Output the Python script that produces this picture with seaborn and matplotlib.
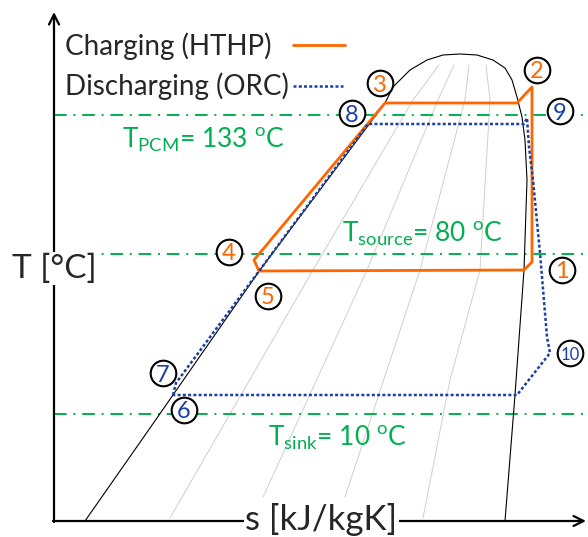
import matplotlib
matplotlib.use("Agg")
import matplotlib.pyplot as plt
import seaborn as sns
import numpy as np

sns.set_style("white")
plt.rcParams['font.family'] = ['Lato', 'DejaVu Sans']
plt.rcParams['mathtext.fontset'] = 'custom'
plt.rcParams['mathtext.rm'] = 'Lato'

# ---- data (schematic T-s diagram, arbitrary units) ----
dome_s = [85, 150, 260, 385, 393, 410, 427, 443, 460, 477, 493, 505, 512, 517, 522, 525, 527, 524, 515, 505]
dome_T = [16, 109, 267, 434, 450, 467, 477, 482, 483, 482, 477, 469, 457, 440, 420, 397, 357, 267, 142, 16]

iso1_s = [439, 413, 313, 170]
iso1_T = [472, 437, 267, 19]
iso2_s = [454, 438, 367, 263]
iso2_T = [472, 437, 267, 40]
iso3_s = [469, 465, 420, 345]
iso3_T = [472, 437, 267, 40]
iso4_s = [486, 490, 480, 450, 423]
iso4_T = [472, 437, 267, 157, 19]

hthp_s = [259, 524, 532, 532, 517, 385, 254, 259]
hthp_T = [266, 267, 275, 450, 434, 434, 277, 266]

orc_s = [173, 176, 368, 524, 527, 529, 533, 540, 547, 550, 517, 173]
orc_T = [142, 154, 413, 413, 419, 390, 357, 284, 200, 184, 142, 142]

temp_levels = [422, 283, 123]
temp_labels = ["T$_{\\mathregular{PCM}}$= 133 $^{\\mathregular{o}}$C",
               "T$_{\\mathregular{source}}$= 80 $^{\\mathregular{o}}$C",
               "T$_{\\mathregular{sink}}$= 10 $^{\\mathregular{o}}$C"]
temp_label_pos = [(122, 390), (342, 295), (268, 92)]

state_ids = ["1", "2", "3", "4", "5", "6", "7", "8", "9", "10"]
state_s = [562, 537, 380, 229, 268, 184, 163, 352, 560, 570]
state_T = [267, 467, 454, 285, 241, 127, 164, 424, 426, 184]

ORANGE = "#FF6600"
BLUE = "#1A3FA6"
GREEN = "#00B050"

fig = plt.figure(figsize=(5.88, 5.37), dpi=100)
ax = fig.add_axes([0, 0, 1, 1])
ax.set_xlim(0, 588)
ax.set_ylim(0, 537)
ax.axis('off')

# iso-quality lines
for xs, ys in [(iso1_s, iso1_T), (iso2_s, iso2_T), (iso3_s, iso3_T), (iso4_s, iso4_T)]:
    sns.lineplot(x=xs, y=ys, sort=False, estimator=None, ax=ax, color="#CFCFCF", lw=0.7, zorder=1)

# saturation dome
sns.lineplot(x=dome_s, y=dome_T, sort=False, estimator=None, ax=ax, color="black", lw=0.8, zorder=2)

# temperature levels
for lvl in temp_levels:
    ax.axhline(lvl, xmin=54/588, xmax=1, color=GREEN, lw=1.4,
               linestyle=(0, (6.5, 3.5, 1, 3.5)), zorder=1.5)
for lab, (x, y) in zip(temp_labels, temp_label_pos):
    ax.text(x, y, lab, color=GREEN, fontsize=19, ha='left', va='baseline', zorder=4)

# cycles
sns.lineplot(x=hthp_s, y=hthp_T, sort=False, estimator=None, ax=ax, color=ORANGE, lw=2.0, zorder=3)
sns.lineplot(x=orc_s, y=orc_T, sort=False, estimator=None, ax=ax, color=BLUE, lw=1.8,
             linestyle=(0, (1.2, 0.9)), zorder=3.5)

# legend (manual)
ax.text(65, 482, "Charging (HTHP)", fontsize=20, ha='left', va='baseline')
ax.text(65, 442, "Discharging (ORC)", fontsize=20, ha='left', va='baseline')
ax.plot([293, 345], [492, 492], color=ORANGE, lw=2.0)
ax.plot([293, 343], [451, 451], color=BLUE, lw=1.8, linestyle=(0, (1.2, 0.9)))

# state markers
sns.scatterplot(x=state_s, y=state_T, ax=ax, s=340, facecolor="white", edgecolor="black",
                linewidth=1.5, zorder=5)
for i, (x, y) in enumerate(zip(state_s, state_T)):
    col = ORANGE if i < 5 else BLUE
    fs = 12 if state_ids[i] == "10" else 17
    ax.text(x, y, state_ids[i], color=col, fontsize=fs, ha='center', va='center_baseline', zorder=6)

# axes with arrows
ax.annotate("", xy=(54, 525), xytext=(54, 15),
            arrowprops=dict(arrowstyle='->', lw=1.6, color='black', mutation_scale=18,
                            shrinkA=0, shrinkB=0))
ax.annotate("", xy=(586, 16), xytext=(53, 16),
            arrowprops=dict(arrowstyle='->', lw=1.6, color='black', mutation_scale=18,
                            shrinkA=0, shrinkB=0))
ax.text(12, 259, "T [°C]", fontsize=24, ha='left', va='baseline', zorder=7,
        bbox=dict(facecolor='white', edgecolor='none', pad=1))
ax.text(245, 7, "s [kJ/kgK]", fontsize=25, ha='left', va='baseline', zorder=7,
        bbox=dict(facecolor='white', edgecolor='none', pad=1))

fig.savefig("out.png", dpi=100)
